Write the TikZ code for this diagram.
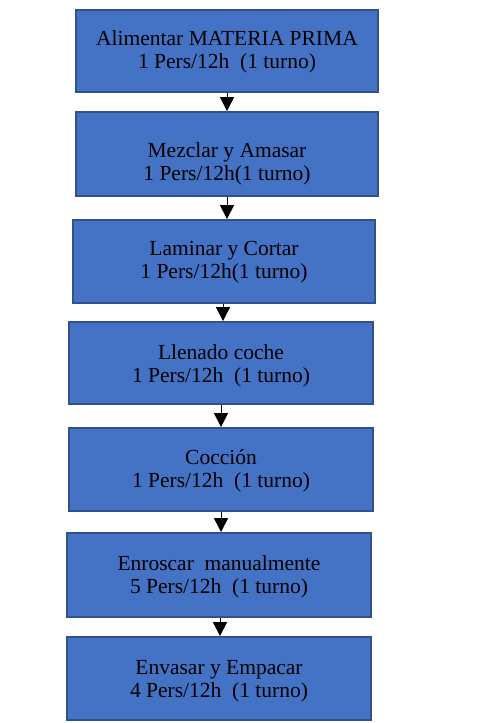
\documentclass[tikz,border=0pt]{standalone}
\usepackage{fontspec}
\setmainfont{Liberation Serif}
\newfontfamily\boxfont{Liberation Serif}
\usetikzlibrary{arrows.meta}
\definecolor{boxfill}{HTML}{4472C4}
\definecolor{boxline}{HTML}{2F528F}
\begin{document}
\begin{tikzpicture}[x=1pt,y=-1pt,
  procbox/.style={draw=boxline,fill=boxfill,line width=1.8pt,inner sep=0pt},
  proctext/.style={align=center,inner sep=0pt,font=\boxfont\fontsize{21.5}{23.5}\selectfont,text=black},
  flowarrow/.style={draw=black,line width=1pt,-{Triangle[width=14pt,length=14pt]}}]
\useasboundingbox (0,0) rectangle (484,723);
\node[procbox,minimum width=302pt,minimum height=82pt] (b1) at (227,51) {};
\node[procbox,minimum width=302pt,minimum height=84pt] (b2) at (227,154) {};
\node[procbox,minimum width=302pt,minimum height=83pt] (b3) at (224,261.5) {};
\node[procbox,minimum width=304pt,minimum height=82pt] (b4) at (221,363) {};
\node[procbox,minimum width=304pt,minimum height=83pt] (b5) at (221,469.5) {};
\node[procbox,minimum width=304pt,minimum height=84pt] (b6) at (219,575) {};
\node[procbox,minimum width=304pt,minimum height=83pt] (b7) at (219,678.5) {};
\node[proctext] (t1) at (227,52) {Alimentar MATERIA PRIMA\\1 Pers/12h~ (1 turno)};
\node[proctext] (t2) at (227,164) {Mezclar y Amasar\\1 Pers/12h(1 turno)};
\node[proctext] (t3) at (224,262) {Laminar y Cortar\\1 Pers/12h(1 turno)};
\node[proctext] (t4) at (221,366) {Llenado coche\\1 Pers/12h~ (1 turno)};
\node[proctext] (t5) at (221,471) {Cocción\\1 Pers/12h~ (1 turno)};
\node[proctext] (t6) at (219,577) {Enroscar~ manualmente\\5 Pers/12h~ (1 turno)};
\node[proctext] (t7) at (219,681) {Envasar y Empacar\\4 Pers/12h~ (1 turno)};
\draw[flowarrow] (b1.south) -- (b1.south |- b2.north);
\draw[flowarrow] (b2.south) -- (b2.south |- b3.north);
\draw[flowarrow] ([xshift=-1pt]b3.south) -- ([xshift=-1pt]b3.south |- b4.north);
\draw[flowarrow] (b4.south) -- (b4.south |- b5.north);
\draw[flowarrow] (b5.south) -- (b5.south |- b6.north);
\draw[flowarrow] ([xshift=1pt]b6.south) -- ([xshift=1pt]b6.south |- b7.north);
\end{tikzpicture}
\end{document}
